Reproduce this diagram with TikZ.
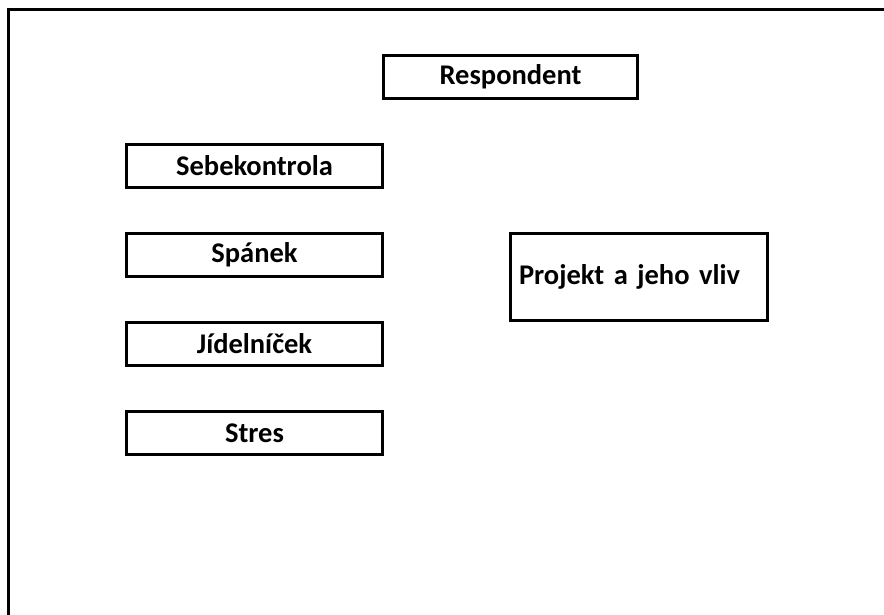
\documentclass[tikz,border=0pt]{standalone}
\usepackage{fontspec}
\setmainfont{Carlito}
\usetikzlibrary{positioning}

\begin{document}
\begin{tikzpicture}[
    x=1pt, y=-1pt,
    node distance=43pt,
    every node/.style={font=\fontsize{28.5}{33}\selectfont\bfseries},
    box/.style={rectangle, draw=black, line width=3pt, inner sep=0pt, minimum width=256pt, minimum height=43pt, text centered},
    frame/.style={draw=black, line width=3pt}
]
\useasboundingbox (0,0) rectangle (884,615);
\clip (0,0) rectangle (884,615);
\draw[frame] (8.5,640) -- (8.5,9.5) -- (920,9.5);

\node[box, minimum width=254pt] (resp) at (510.5,77) {Respondent};
\node[box] (sebe) at (254.5,166) {Sebekontrola};
\node[box, below=of sebe] (spanek) {Spánek};
\node[box, below=of spanek] (jidel) {Jídelníček};
\node[box, below=of jidel] (stres) {Stres};
\node[box, minimum width=257pt, minimum height=87pt, inner xsep=8.5pt, text width=240pt, align=left] (projekt) at (639,277) {Projekt a jeho vliv};
\end{tikzpicture}
\end{document}
